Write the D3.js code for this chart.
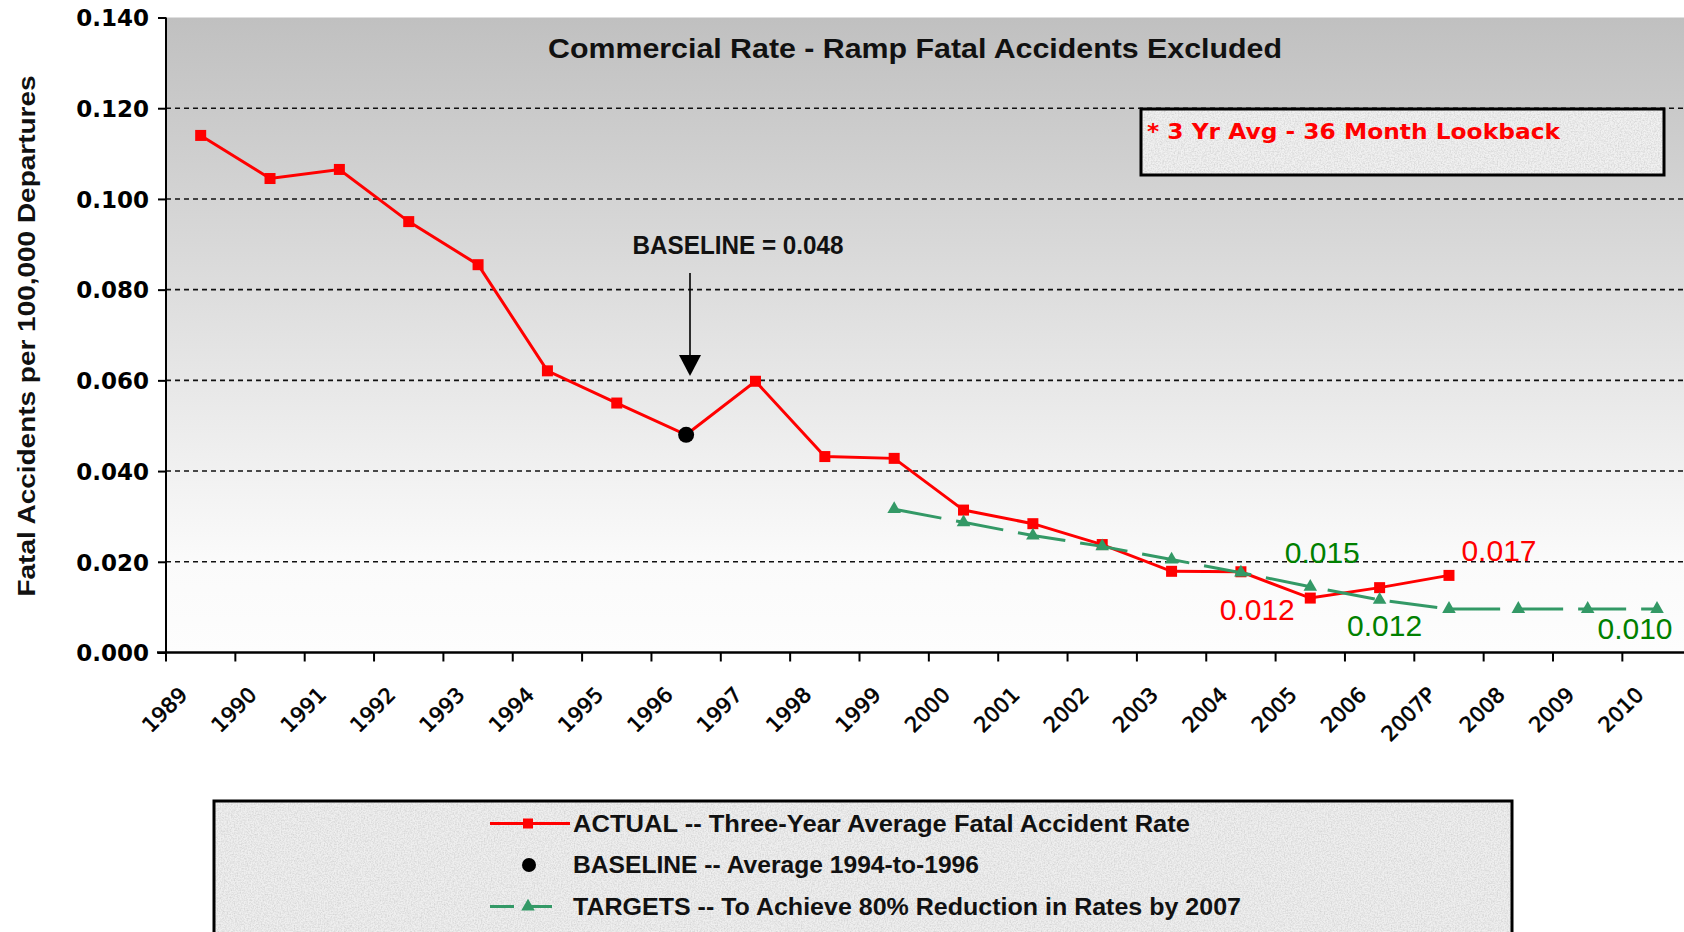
<!DOCTYPE html>
<html><head><meta charset="utf-8">
<script src="https://cdn.jsdelivr.net/npm/d3@7"></script>
<style>html,body{margin:0;padding:0;background:#fff;overflow:hidden}</style>
</head><body>
<svg id="c" width="1684" height="932"></svg>
<script>
const categories = ["1989","1990","1991","1992","1993","1994","1995","1996","1997","1998","1999","2000","2001","2002","2003","2004","2005","2006","2007P","2008","2009","2010"];
const actualCats = ["1989","1990","1991","1992","1993","1994","1995","1996","1997","1998","1999","2000","2001","2002","2003","2004","2005","2006","2007P"];
const actualValues = [0.114,0.1045,0.1065,0.095,0.0855,0.0621,0.055,0.048,0.0598,0.0432,0.0428,0.0314,0.0284,0.0238,0.0179,0.0178,0.012,0.0143,0.017];
const targetCats = ["1999","2000","2001","2002","2003","2004","2005","2006","2007P","2008","2009","2010"];
const targetValues = [0.0316,0.0287,0.0258,0.0234,0.0205,0.0176,0.0145,0.0116,0.0096,0.0096,0.0096,0.0096];
const baselineCat = "1996";
const baselineValue = 0.048;
const yTicks = [0,0.02,0.04,0.06,0.08,0.10,0.12,0.14];
const actualLabels = [{cat:"2005", text:"0.012"},{cat:"2007P", text:"0.017"}];
const targetLabels = [{cat:"2005", text:"0.015"},{cat:"2006", text:"0.012"},{cat:"2010", text:"0.010"}];
const titleText = "Commercial Rate - Ramp Fatal Accidents Excluded";
const yAxisTitle = "Fatal Accidents per 100,000 Departures";
const noteText = "* 3 Yr Avg - 36 Month Lookback";
const baselineNote = "BASELINE = 0.048";
const legendItems = ["ACTUAL -- Three-Year Average Fatal Accident Rate","BASELINE -- Average 1994-to-1996","TARGETS -- To Achieve 80% Reduction in Rates by 2007"];

const svg = d3.select("#c");
const L = 166, R = 166 + 22*69.35, T = 17.5, B = 652.5;
const x = d3.scaleBand().domain(categories).range([L, R]);
const cx = c => x(c) + x.bandwidth()/2;
const y = d3.scaleLinear().domain([0, 0.14]).range([B, T]);

const defs = svg.append("defs");
const grad = defs.append("linearGradient").attr("id","bg").attr("x1",0).attr("y1",0).attr("x2",0).attr("y2",1);
grad.append("stop").attr("offset","0%").attr("stop-color","#c0c0c0");
grad.append("stop").attr("offset","85%").attr("stop-color","#fafafa");
grad.append("stop").attr("offset","100%").attr("stop-color","#fdfdfd");
const f = defs.append("filter").attr("id","granite").attr("x",0).attr("y",0).attr("width",1).attr("height",1);
f.append("feTurbulence").attr("type","fractalNoise").attr("baseFrequency","0.7").attr("numOctaves",2).attr("seed",4).attr("result","n");
f.append("feColorMatrix").attr("in","n").attr("type","matrix").attr("values","0 0 0 0 0.55  0 0 0 0 0.55  0 0 0 0 0.55  0 0 0 1.2 -0.42");

// plot background
svg.append("rect").attr("x",L).attr("y",T).attr("width",R-L).attr("height",B-T).attr("fill","url(#bg)");

// gridlines
svg.append("g").selectAll("line").data(yTicks.filter(v => v>0 && v<0.14)).join("line")
  .attr("x1",L).attr("x2",R).attr("y1",d=>y(d)).attr("y2",d=>y(d))
  .attr("stroke","#111").attr("stroke-width",1.6).attr("stroke-dasharray","5,4");

// title
svg.append("text").attr("x",915).attr("y",58).attr("text-anchor","middle")
  .attr("font-family","'Liberation Sans Narrow','Liberation Sans',Arial,sans-serif").attr("font-weight","bold")
  .attr("font-size",27).attr("textLength",734).attr("lengthAdjust","spacingAndGlyphs").attr("fill","#111").text(titleText);

// note box
svg.append("rect").attr("x",1141).attr("y",109).attr("width",523).attr("height",66).attr("fill","#f1f1f1");
svg.append("rect").attr("x",1141).attr("y",109).attr("width",523).attr("height",66).attr("fill","#fff").attr("filter","url(#granite)");
svg.append("rect").attr("x",1141).attr("y",109).attr("width",523).attr("height",66).attr("fill","none").attr("stroke","#000").attr("stroke-width",3);
svg.append("text").attr("x",1147).attr("y",139).attr("font-family","'DejaVu Sans',Verdana,sans-serif").attr("font-weight","bold")
  .attr("font-size",22).attr("fill","#ff0000").attr("textLength",413).attr("lengthAdjust","spacingAndGlyphs").text(noteText);

// baseline annotation
svg.append("text").attr("x",738).attr("y",254).attr("text-anchor","middle")
  .attr("font-family","'Liberation Sans Narrow','Liberation Sans',Arial,sans-serif").attr("font-weight","bold")
  .attr("font-size",26).attr("textLength",211).attr("lengthAdjust","spacingAndGlyphs").attr("fill","#111").text(baselineNote);
const ax = 690;
svg.append("line").attr("x1",ax).attr("x2",ax).attr("y1",273).attr("y2",360).attr("stroke","#000").attr("stroke-width",1.6);
svg.append("path").attr("d",`M${ax-11},355 L${ax+11},355 L${ax},376 Z`).attr("fill","#000");

// axes
const yAxis = d3.axisLeft(y).tickValues(yTicks).tickSize(8).tickFormat(d3.format(".3f"));
const gy = svg.append("g").attr("transform",`translate(${L},0)`).call(yAxis);
gy.select(".domain").attr("stroke","#000").attr("stroke-width",2).attr("d",`M0,${T}V${B}`);
gy.selectAll(".tick line").attr("stroke","#000").attr("stroke-width",2);
gy.selectAll(".tick text").attr("x",-17).attr("font-family","'DejaVu Sans',Verdana,sans-serif").attr("font-weight","bold").attr("font-size",23).attr("fill","#000").attr("dy","0.36em");

const gx = svg.append("g").attr("transform",`translate(0,${B})`);
gx.append("line").attr("x1",L-9).attr("x2",R).attr("y1",0).attr("y2",0).attr("stroke","#000").attr("stroke-width",2.4);
const bounds = categories.map((c,i)=>x(c)).concat([R]);
gx.selectAll("line.tk").data(bounds).join("line").attr("class","tk")
  .attr("x1",d=>d).attr("x2",d=>d).attr("y1",0).attr("y2",9).attr("stroke","#000").attr("stroke-width",2);
svg.append("g").selectAll("text").data(categories).join("text")
  .attr("transform",d=>`translate(${cx(d)-12},696) rotate(-45)`)
  .attr("text-anchor","end").attr("font-family","'DejaVu Sans',Verdana,sans-serif")
  .attr("font-size",21).attr("fill","#000").attr("stroke","#000").attr("stroke-width",0.6).text(d=>d);

// y-axis title
svg.append("text").attr("transform","translate(35,336) rotate(-90)").attr("text-anchor","middle")
  .attr("font-family","'Liberation Sans',Arial,sans-serif").attr("font-weight","bold").attr("font-size",24)
  .attr("textLength",521).attr("lengthAdjust","spacingAndGlyphs").attr("fill","#111").text(yAxisTitle);

// actual line
const line = d3.line().x(d=>cx(d[0])).y(d=>y(d[1]));
const actual = actualCats.map((c,i)=>[c,actualValues[i]]);
const target = targetCats.map((c,i)=>[c,targetValues[i]]);
svg.append("path").datum(actual).attr("d",line).attr("fill","none").attr("stroke","#ff0000").attr("stroke-width",3);
svg.append("g").selectAll("rect").data(actual).join("rect")
  .attr("x",d=>cx(d[0])-5.5).attr("y",d=>y(d[1])-5.5).attr("width",11).attr("height",11).attr("fill","#ff0000");

// target line
svg.append("path").datum(target).attr("d",line).attr("fill","none").attr("stroke","#339966").attr("stroke-width",3).attr("stroke-dasharray","48,15");
const tri = d3.symbol().type(d3.symbolTriangle).size(80);
svg.append("g").selectAll("path").data(target).join("path")
  .attr("transform",d=>`translate(${cx(d[0])},${y(d[1])})`).attr("d",tri).attr("fill","#339966");

// baseline point
svg.append("circle").attr("cx",cx(baselineCat)).attr("cy",y(baselineValue)).attr("r",8).attr("fill","#000");

// data labels
const redOff = {"2005":[-53,22],"2007P":[50,-14]};
const greenOff = {"2005":[12,-24],"2006":[5,36],"2010":[-22,30]};
svg.append("g").selectAll("text").data(actualLabels).join("text")
  .attr("x",d=>cx(d.cat)+redOff[d.cat][0]).attr("y",d=>y(actualValues[actualCats.indexOf(d.cat)])+redOff[d.cat][1])
  .attr("text-anchor","middle").attr("font-family","'Liberation Sans',Arial,sans-serif").attr("font-size",30).attr("fill","#ff0000").text(d=>d.text);
svg.append("g").selectAll("text").data(targetLabels).join("text")
  .attr("x",d=>cx(d.cat)+greenOff[d.cat][0]).attr("y",d=>y(targetValues[targetCats.indexOf(d.cat)])+greenOff[d.cat][1])
  .attr("text-anchor","middle").attr("font-family","'Liberation Sans',Arial,sans-serif").attr("font-size",30).attr("fill","#008000").text(d=>d.text);

// legend
const lg = svg.append("g");
lg.append("rect").attr("x",214).attr("y",801).attr("width",1298).attr("height",140).attr("fill","#efefef");
lg.append("rect").attr("x",214).attr("y",801).attr("width",1298).attr("height",140).attr("fill","#fff").attr("filter","url(#granite)");
lg.append("rect").attr("x",214).attr("y",801).attr("width",1298).attr("height",140).attr("fill","none").attr("stroke","#000").attr("stroke-width",3);
const lys = [823.5, 865, 906.5];
const lw = [617, 406, 668];
lg.selectAll("text").data(legendItems).join("text")
  .attr("x",573).attr("y",(d,i)=>lys[i]+8)
  .attr("font-family","'Liberation Sans Narrow','Liberation Sans',Arial,sans-serif").attr("font-weight","bold").attr("font-size",23)
  .attr("textLength",(d,i)=>lw[i]).attr("lengthAdjust","spacingAndGlyphs").attr("fill","#111").text(d=>d);
lg.append("line").attr("x1",490).attr("x2",570).attr("y1",lys[0]).attr("y2",lys[0]).attr("stroke","#ff0000").attr("stroke-width",3);
lg.append("rect").attr("x",523).attr("y",lys[0]-5).attr("width",10).attr("height",10).attr("fill","#ff0000");
lg.append("circle").attr("cx",529).attr("cy",lys[1]).attr("r",7).attr("fill","#000");
lg.append("line").attr("x1",490).attr("x2",558).attr("y1",lys[2]).attr("y2",lys[2]).attr("stroke","#339966").attr("stroke-width",3).attr("stroke-dasharray","24,14");
lg.append("path").attr("transform",`translate(528,${lys[2]})`).attr("d",tri).attr("fill","#339966");
</script>
</body></html>
